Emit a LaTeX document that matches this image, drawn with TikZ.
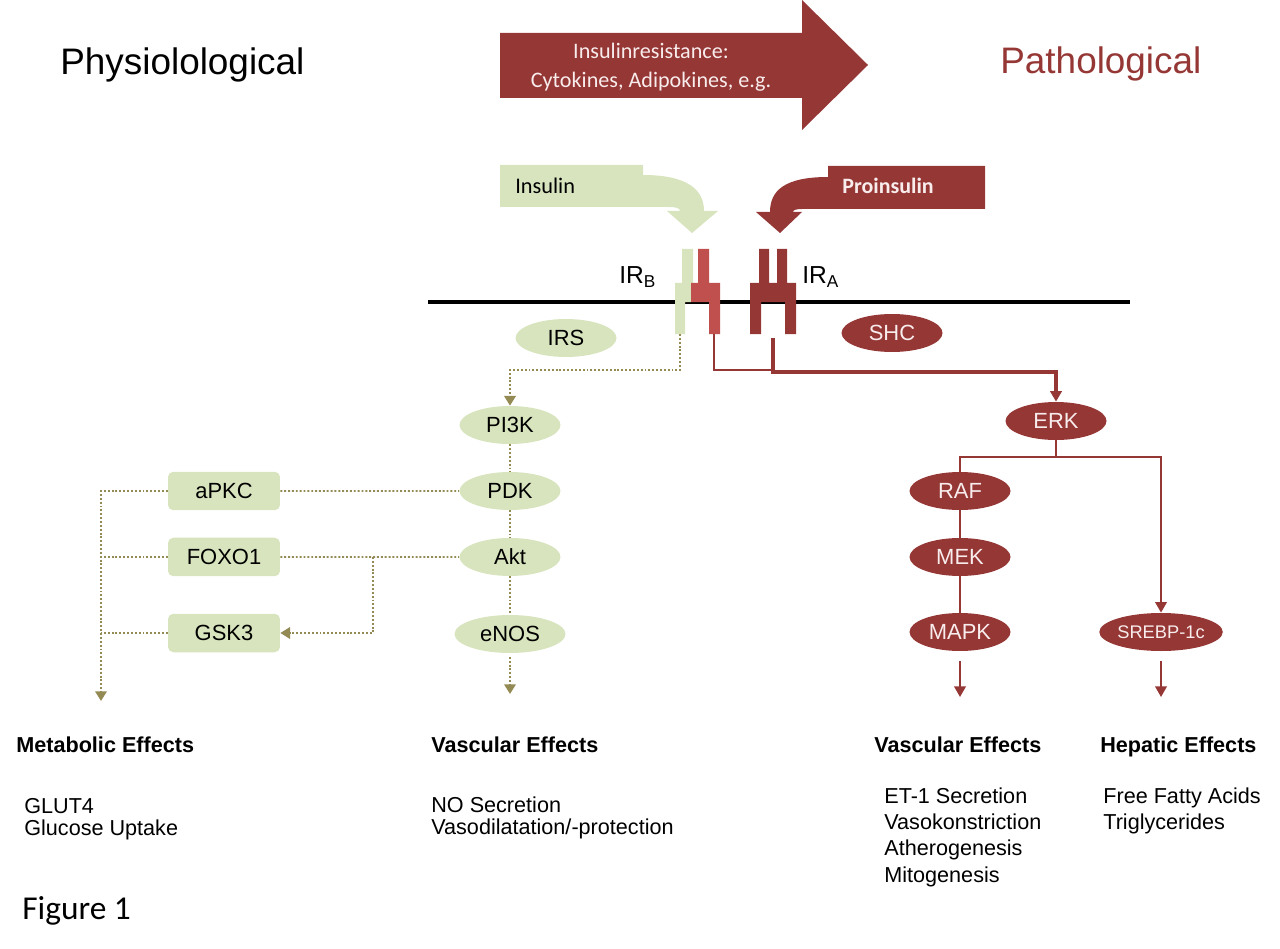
\documentclass[tikz,border=0pt]{standalone}
\usepackage{fontspec}
\setmainfont{Liberation Sans}
\newfontfamily\calibri{Carlito}
\usetikzlibrary{shapes.geometric,arrows.meta,positioning}
\definecolor{leaf}{HTML}{D7E4BD}
\definecolor{wine}{HTML}{953735}
\definecolor{brick}{HTML}{C0504D}
\definecolor{moss}{HTML}{948A54}
\definecolor{paper}{HTML}{F8ECEC}

\begin{document}
\begin{tikzpicture}
    [x=0.02cm, y=-0.02cm,
    node distance=1.32cm,
    greenbub/.style={ellipse, fill=leaf, inner sep=0pt, minimum width=2.02cm, minimum height=0.76cm, font=\fontsize{12.5}{14}\selectfont},
    redbub/.style={greenbub, fill=wine, text=paper},
    greenbox/.style={rectangle, rounded corners=3pt, fill=leaf, inner sep=0pt, minimum width=2.24cm, minimum height=0.77cm, font=\fontsize{12.5}{14}\selectfont},
    dots/.style={moss, line width=1.1pt, dash pattern=on 1.1pt off 1.1pt},
    dotarrow/.style={dots, -{Triangle[width=6.5pt,length=5.5pt]}},
    redline/.style={wine, line width=1.2pt},
    redarrow/.style={redline, -{Triangle[width=6.5pt,length=6pt]}},
    head/.style={font=\bfseries\fontsize{12.3}{14}\selectfont, anchor=base west, inner sep=0pt},
    effect/.style={align=left, anchor=north west, inner sep=0pt}]
    \useasboundingbox (0,0) rectangle (1280,949);

    % titles and the big arrow
    \node[font=\fontsize{21}{25}\selectfont, anchor=base west, inner sep=0pt] (physio) at (60,75) {Physiolological};
    \node[font=\fontsize{21}{25}\selectfont, anchor=base west, inner sep=0pt, text=wine] (patho) at (1000,74) {Pathological};
    \fill[wine] (500,33) -- (802,33) -- (802,0) -- (868,65) -- (802,130) -- (802,98) -- (500,98) -- cycle;
    \node[text=paper, font=\calibri\fontsize{12.6}{16.2}\selectfont, align=center] (resist) at (651,67) {Insulinresistance:\\Cytokines, Adipokines, e.g.};

    % ligands
    \fill[leaf] (500,165) -- (643,165) -- (643,175) .. controls (688,175) and (704,190) .. (704,211) -- (718,211) -- (692,233) -- (667,211) -- (680,211) .. controls (680,208) and (676,207) .. (668,207) -- (500,207) -- cycle;
    \node[font=\calibri\fontsize{12.7}{15}\selectfont, anchor=base west, inner sep=0pt] (insulin) at (515,194) {Insulin};
    \fill[wine] (985,166) -- (828,166) -- (828,177) .. controls (784,177) and (770,191) .. (770,212) -- (756,212) -- (780,233) -- (802,212) -- (793,212) .. controls (793,210) and (796,209) .. (802,209) -- (985,209) -- cycle;
    \node[font=\calibri\bfseries\fontsize{12.5}{15}\selectfont, anchor=base west, inner sep=0pt, text=paper] (proins) at (842,194) {Proinsulin};

    % membrane and receptors
    \draw[line width=2.8pt] (428,302) -- (1130,302);
    \fill[leaf] (682,249) -- (693,249) -- (693,283) -- (691,283) -- (691,302) -- (685,302) -- (685,334) -- (675,334) -- (675,283) -- (682,283) -- cycle;
    \fill[brick] (698,249) -- (709,249) -- (709,283) -- (720,283) -- (720,334) -- (709,334) -- (709,302) -- (691,302) -- (691,283) -- (698,283) -- cycle;
    \fill[wine] (759,249) -- (769,249) -- (769,283) -- (777,283) -- (777,249) -- (787,249) -- (787,283) -- (796,283) -- (796,334) -- (785,334) -- (785,302) -- (761,302) -- (761,334) -- (750,334) -- (750,283) -- (759,283) -- cycle;
    \node[font=\fontsize{14}{16}\selectfont, anchor=base west, inner sep=0pt] (irb) at (619,284) {IR\textsubscript{B}};
    \node[font=\fontsize{14}{16}\selectfont, anchor=base west, inner sep=0pt] (ira) at (802,284) {IR\textsubscript{A}};
    \coordinate (irbG) at (680,334);
    \coordinate (irbR) at (714,334);
    \coordinate (iraR) at (773,338);

    % physiological branch
    \node[greenbub] (irs) at (566,338) {IRS};
    \node[greenbub] (pik) at (510,425) {PI3K};
    \node[greenbub, below of=pik] (pdk) {PDK};
    \node[greenbub, below of=pdk] (akt) {Akt};
    \node[greenbub, minimum width=2.22cm] (enos) at (510,634) {eNOS};
    \node[greenbox] (apkc) at (224,491) {aPKC};
    \node[greenbox, below of=apkc] (foxo) {FOXO1};
    \node[greenbox] (gsk) at (224,633) {GSK3};
    \coordinate (fork) at (373,557);
    \coordinate (bus) at (101,701);
    \coordinate (vasoG) at (510,694);

    \draw[dotarrow] (irbG) -- ++(0,36) -| (pik.north);
    \draw[dots] (pik) -- (pdk);
    \draw[dots] (pdk) -- (akt);
    \draw[dots] (akt) -- (enos);
    \draw[dotarrow, shorten <=2pt] (enos) -- (vasoG);
    \draw[dots] (apkc) -- (pdk);
    \draw[dots] (foxo) -- (akt);
    \draw[dotarrow] (fork) |- (gsk);
    \draw[dotarrow] (apkc.west) -| (bus);
    \draw[dots] (foxo.west) -- (foxo.west -| bus);
    \draw[dots] (gsk.west) -- (gsk.west -| bus);

    % pathological branch
    \node[redbub] (shc) at (892,333) {SHC};
    \node[redbub] (erk) at (1056,421) {ERK};
    \node[redbub] (raf) at (960,491) {RAF};
    \node[redbub, below of=raf] (mek) {MEK};
    \node[redbub] (mapk) at (960,632) {MAPK};
    \node[redbub, font=\fontsize{10.4}{12}\selectfont] (srebp) at (1161,632) {SREBP-1c};
    \coordinate (split) at (1056,457);
    \coordinate (vasoR) at (960,697);
    \coordinate (hepa) at (1161,697);

    \draw[redline] (irbR) -- ++(0,36) -| (iraR);
    \draw[redarrow, line width=2pt] (iraR) -- ++(0,34) -| (erk.north);
    \draw[redline] (erk) -- (split);
    \draw[redline] (split) -| (raf.north);
    \draw[redarrow] (split) -| (srebp.north);
    \draw[redline] (raf) -- (mek);
    \draw[redline] (mek) -- (mapk);
    \draw[redarrow, shorten <=5.5pt] (mapk) -- (vasoR);
    \draw[redarrow, shorten <=5.5pt] (srebp) -- (hepa);

    % effects
    \node[head] (metab) at (16,752) {Metabolic Effects};
    \node[effect, font=\fontsize{12.3}{12.8}\selectfont] (metabtxt) at (24,798) {GLUT4\\Glucose Uptake};
    \node[head] (vascG) at (431,752) {Vascular Effects};
    \node[effect, font=\fontsize{12.3}{12.8}\selectfont] (vascGtxt) at (431,796) {NO Secretion\\Vasodilatation/-protection};
    \node[head] (vascR) at (874,752) {Vascular Effects};
    \node[effect, font=\fontsize{12.3}{15}\selectfont] (vascRtxt) at (884,787) {ET-1 Secretion\\Vasokonstriction\\Atherogenesis\\Mitogenesis};
    \node[head] (hepat) at (1100,752) {Hepatic Effects};
    \node[effect, font=\fontsize{12.3}{15}\selectfont] (hepattxt) at (1103,787) {Free Fatty Acids\\Triglycerides};

    \node[font=\calibri\fontsize{19}{22}\selectfont, anchor=base west, inner sep=0pt] (fig) at (22,919) {Figure 1};
\end{tikzpicture}
\end{document}
